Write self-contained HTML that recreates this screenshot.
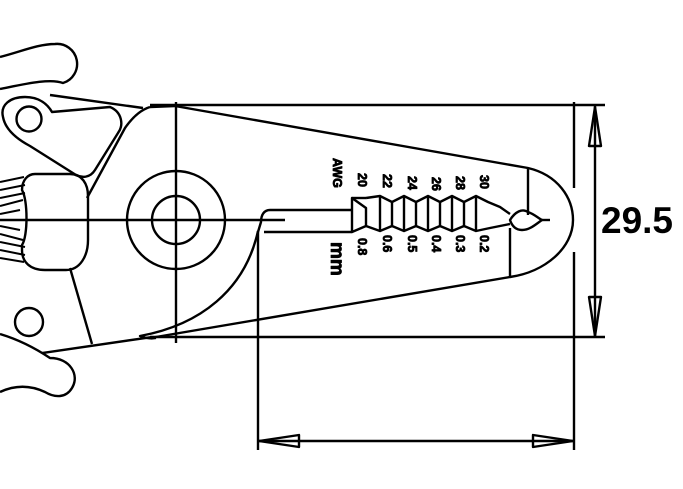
<!DOCTYPE html>
<html><head><style>
html,body{margin:0;padding:0;background:#fff;width:683px;height:489px;overflow:hidden}
svg{display:block}
</style></head><body>
<svg width="683" height="489" viewBox="0 0 683 489" xmlns="http://www.w3.org/2000/svg" fill="none" stroke="#000" stroke-width="2.4" stroke-linejoin="round">
<path d="M0,57 C20,52 38,44 55,44 A20,20 0 0 1 63,83 C50,78 25,84 0,89"/>
<path d="M50,95 L143,108"/>
<path d="M3,117 C0,105 10,97 25,97 C40,97 48,105 52,112 L110,107 C122,112 124,125 118,133 L95,170 C90,178 82,178 76,175 L30,146 C15,138 5,128 3,117 Z"/>
<circle cx="29" cy="119" r="12.5"/>
<path d="M150,107 C140,110 132,118 125,128 L87,198"/>
<path d="M35,174 L70,174 C82,174 88,184 88,196 L88,240 C88,256 80,270 66,270 L45,270 C30,270 22,262 22,250 L22,245 C28,236 28,200 22,190 C22,180 28,174 35,174 Z"/>
<g stroke-width="2">
<path d="M0,182 L24,177 M0,190 L25,185 M0,198 L25,193 M0,206 L23,200 M0,214 L20,210 M0,226 L20,230 M0,234 L23,240 M0,242 L25,247 M0,250 L25,255 M0,258 L24,262"/>
</g>
<path d="M70,268 L92,344"/>
<circle cx="29" cy="322" r="14"/>
<path d="M0,334 C20,340 38,350 50,358 C70,358 80,375 72,388 C66,398 55,398 45,392 C30,385 15,385 0,392"/>
<path d="M42,353 L152,337"/>
<path d="M258,231 C245,290 200,325 140,336 C145,338 150,339 156,338"/>
<path d="M150,107 L175,106 L528,168 C558,175 573,198 573,220 C573,248 545,272 510,277 L150,338"/>
<path d="M528,168 L528,215"/>
<path d="M510,228 L510,277"/>
<path d="M352,210 L270,210 C264,210 261,215 261,222 L258,232"/>
<path d="M352,232 L264,232"/>
<path d="M352,198 L352,232 L366,226 L366,208 Z"/>
<path d="M352,198 L366,198"/>
<path d="M366,198 L380,196 L392,202 L404,196 L416,202 L428,196 L440,202 L452,196 L464,202 L476,196 L488,202 L500,207 L510,214"/>
<path d="M366,226 L380,231 L392,226 L404,231 L416,226 L428,231 L440,226 L452,231 L464,226 L476,231 L490,228 L510,224"/>
<path d="M380,196 L380,231 M392,202 L392,226 M404,196 L404,231 M416,202 L416,226 M428,196 L428,231 M440,202 L440,226 M452,196 L452,231 M464,202 L464,226 M476,196 L476,231"/>
<path d="M510,220 C515,212 522,208 528,212 C534,214 538,218 542,220 C536,224 530,230 522,230 C516,230 512,226 510,220 Z"/>
<path d="M542,220 L550,220"/>
<path d="M0,220 L285,220"/>
<path d="M176,102 L176,343"/>
<circle cx="176" cy="220" r="49"/>
<circle cx="176" cy="220" r="24"/>
<path d="M150,105 L605,105"/>
<path d="M150,337 L605,337"/>
<path d="M574,102 L574,188 M574,252 L574,450"/>
<path d="M258,232 L258,450"/>
<path d="M595,106 L595,337"/>
<path d="M595,107 L589,146 L601,146 Z"/>
<path d="M595,336 L589,297 L601,297 Z"/>
<path d="M258,441 L574,441"/>
<path d="M259,441 L299,435 L299,447 Z"/>
<path d="M573,441 L533,435 L533,447 Z"/>
<g fill="#000" stroke="#000" stroke-width="0.8" font-family="Liberation Sans, sans-serif" font-weight="bold">
<text x="601" y="233" font-size="37" stroke="none">29.5</text>
<g font-size="12.5">
<text transform="translate(333,158) rotate(90)">AWG</text>
<text transform="translate(358,173) rotate(90)">20</text>
<text transform="translate(383,174) rotate(90)">22</text>
<text transform="translate(408,176) rotate(90)">24</text>
<text transform="translate(432,177) rotate(90)">26</text>
<text transform="translate(456,176) rotate(90)">28</text>
<text transform="translate(480,175) rotate(90)">30</text>
<text transform="translate(358,238) rotate(90)">0.8</text>
<text transform="translate(383,235) rotate(90)">0.6</text>
<text transform="translate(408,235) rotate(90)">0.5</text>
<text transform="translate(432,235) rotate(90)">0.4</text>
<text transform="translate(456,235) rotate(90)">0.3</text>
<text transform="translate(480,235) rotate(90)">0.2</text>
</g>
<text transform="translate(331,242) rotate(90)" font-size="19">mm</text>
</g>
</svg>
</body></html>
